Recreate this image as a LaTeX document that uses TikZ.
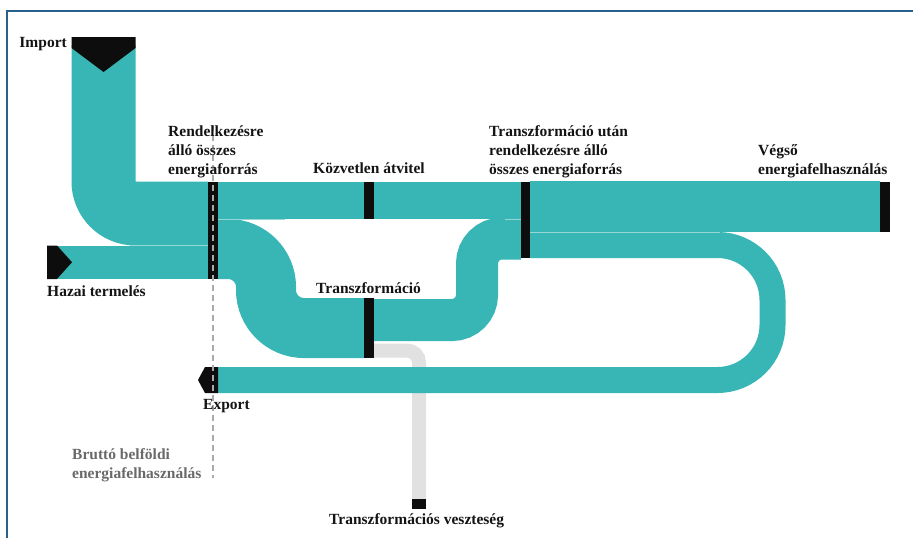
\documentclass[tikz,border=0pt]{standalone}
\usepackage{fontspec}
\setmainfont{Liberation Serif}
\definecolor{teal0}{RGB}{56,182,181}
\definecolor{tealsep}{RGB}{150,214,213}
\definecolor{lossgray}{RGB}{225,225,225}
\definecolor{dashcol}{RGB}{170,170,170}
\definecolor{framecol}{RGB}{38,98,140}
\definecolor{graytext}{RGB}{105,105,105}
\begin{document}
\begin{tikzpicture}[x=1pt,y=-1pt,
  flow/.style={draw=teal0, line cap=butt},
  sepline/.style={draw=tealsep, line width=0.7pt},
  lbl/.style={font=\fontsize{15.5}{19}\selectfont\bfseries, text=black!92, inner sep=0pt, align=left, anchor=base west},
  glbl/.style={lbl, text=graytext},
  blk/.style={fill=black!95},
]
\useasboundingbox (0,0) rectangle (913,538);
% frame
\draw[framecol, line width=2.2pt] (7,540) -- (7,11) -- (915,11);

% loss flow
\draw[draw=lossgray, line width=14pt, rounded corners=12pt] (374,350.5) -- (419,350.5) -- (419,500);

% import and domestic production
\draw[flow, line width=64pt, rounded corners=32pt] (103.5,45) -- (103.5,213.5) -- (208,213.5);
\draw[flow, line width=33.5pt] (55,262.25) -- (208,262.25);
% direct transfer
\draw[flow, line width=37.5pt] (218,200.25) -- (521,200.25);
% transformation input
\draw[flow, line width=60pt, rounded corners=38pt] (218,249) -- (266,249) -- (266,328) -- (364,328);
% transformation output
\draw[flow, line width=42pt, rounded corners=25pt] (374,320) -- (477,320) -- (477,238.5) -- (521,238.5);
% final consumption
\draw[flow, line width=51pt] (530,206.5) -- (880,206.5);
% loop to export
\draw[flow, line width=26pt, rounded corners=55pt] (530,245) -- (772.5,245) -- (772.5,380) -- (217,380);

% faint separation lines
\draw[sepline] (130,245.5) -- (208,245.5);
\draw[sepline] (218,219) -- (285,219);
\draw[sepline] (505,219) -- (521,219);
\draw[sepline] (530,232) -- (720,232);

% black markers
\fill[blk] (71.5,37) -- (135.5,37) -- (135.5,48) -- (103.5,72) -- (71.5,48) -- cycle;
\fill[blk] (47,245.5) -- (57,245.5) -- (72,262.25) -- (57,279) -- (47,279) -- cycle;
\fill[blk] (208,181.5) rectangle (218,279);
\fill[blk] (364,181.5) rectangle (374,219);
\fill[blk] (364,298) rectangle (374,358);
\fill[blk] (521,181.5) rectangle (530,258);
\fill[blk] (880,181.5) rectangle (890,232);
\fill[blk] (412,499) rectangle (426,509);
\fill[blk] (218,367) -- (205,367) -- (198,380) -- (205,393) -- (218,393) -- cycle;

% dashed boundary
\draw[dashcol, line width=1.4pt, dash pattern=on 6pt off 4pt] (213,125) -- (213,478);

% labels (multi-line labels anchored at the baseline of their last line)
\node[lbl, anchor=base east] (limport) at (67,47) {Import};
\node[lbl] (lhazai) at (47,296) {Hazai termelés};
\node[lbl] (lrend) at (168,174) {Rendelkezésre\\álló összes\\energiaforrás};
\node[lbl] (lkozv) at (313,173) {Közvetlen átvitel};
\node[lbl] (lutan) at (489,174) {Transzformáció után\\rendelkezésre álló\\összes energiaforrás};
\node[lbl] (lvegso) at (758,174) {Végső\\energiafelhasználás};
\node[lbl] (ltransz) at (316,293) {Transzformáció};
\node[lbl] (lexport) at (203,409) {Export};
\node[glbl] (lbrutto) at (72,478) {Bruttó belföldi\\energiafelhasználás};
\node[lbl] (lloss) at (329,524) {Transzformációs veszteség};
\end{tikzpicture}
\end{document}
